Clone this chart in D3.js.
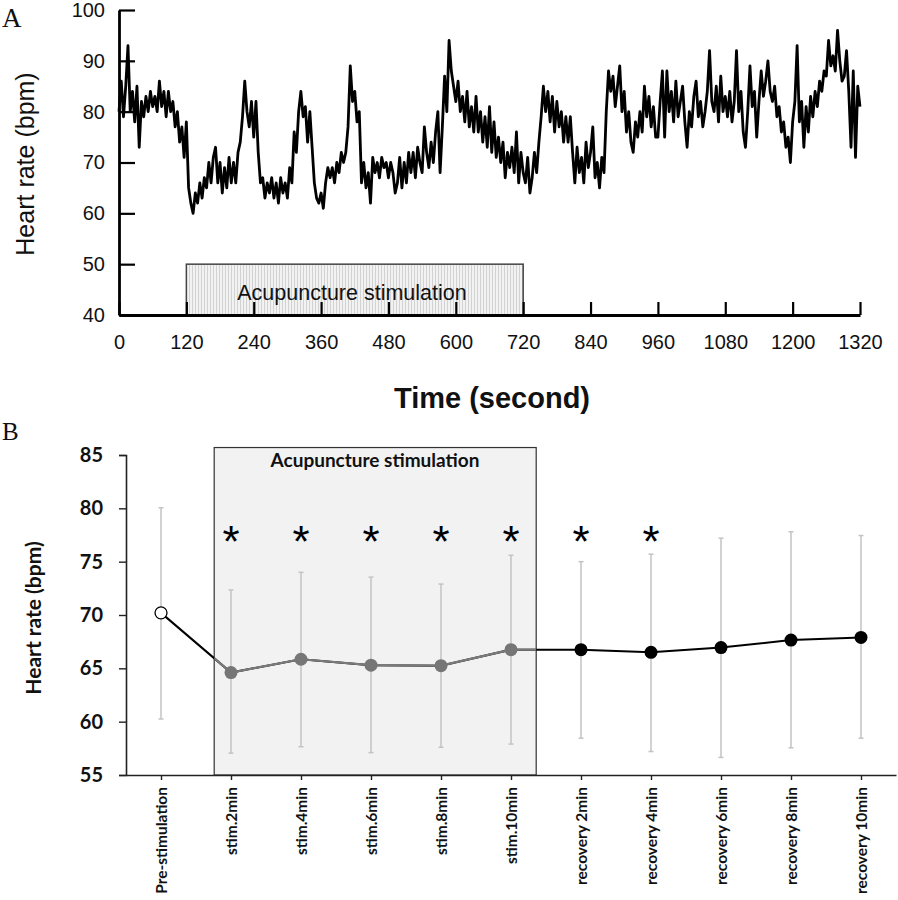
<!DOCTYPE html>
<html><head><meta charset="utf-8">
<script src="https://cdn.jsdelivr.net/npm/d3@7"></script>
<style>body{margin:0;background:#fff} svg{display:block}</style>
</head><body>
<svg id="chart" width="898" height="900"></svg>
<script>
// ---------- Panel A data: heart rate trace, one value every 4 s (0..1320 s) ----------
const hrValues = [
  80, 86, 79, 85, 93, 80, 84, 78, 85, 73,
  82, 79, 83, 80, 84, 81, 83, 80, 86, 81,
  84, 79, 84, 80, 82, 77, 80, 74, 77, 71,
  78, 65, 62, 60, 64, 62, 66, 63, 67, 65,
  70, 66, 71, 73, 66, 70, 64, 69, 65, 71,
  66, 70, 66, 72, 74, 79, 86, 80, 77, 82,
  75, 82, 72, 66, 67, 63, 66, 64, 67, 63,
  66, 62, 67, 64, 66, 63, 69, 66, 76, 72,
  80, 84, 79, 81, 74, 80, 73, 66, 63, 62,
  64, 61, 66, 69, 67, 69, 66, 70, 68, 72,
  70, 72, 77, 89, 82, 84, 78, 80, 66, 70,
  65, 68, 62, 71, 68, 70, 67, 71, 69, 70,
  67, 70, 68, 64, 66, 71, 65, 70, 66, 72,
  68, 72, 67, 73, 70, 68, 77, 72, 69, 74,
  70, 76, 80, 68, 77, 87, 80, 94, 88, 85,
  82, 86, 80, 83, 78, 84, 77, 81, 76, 83,
  76, 80, 74, 79, 73, 81, 72, 78, 71, 75,
  70, 74, 67, 72, 69, 73, 68, 76, 66, 72,
  68, 66, 71, 64, 67, 72, 68, 74, 79, 85,
  80, 84, 78, 83, 76, 82, 77, 80, 74, 79,
  74, 79, 72, 66, 73, 68, 71, 66, 74, 69,
  72, 77, 67, 70, 65, 71, 68, 80, 88, 84,
  87, 81, 85, 89, 80, 84, 76, 80, 74, 72,
  78, 75, 80, 76, 85, 79, 83, 77, 81, 75,
  75, 82, 88, 75, 88, 80, 84, 78, 86, 79,
  82, 85, 78, 73, 80, 77, 83, 86, 79, 82,
  77, 80, 84, 92, 82, 80, 85, 78, 87, 80,
  83, 79, 84, 78, 82, 92, 80, 84, 76, 73,
  80, 89, 81, 84, 75, 82, 88, 83, 86, 90,
  84, 82, 85, 79, 81, 76, 78, 73, 75, 70,
  78, 82, 93, 78, 82, 73, 81, 76, 83, 79,
  84, 81, 86, 84, 88, 87, 94, 89, 91, 88,
  96, 90, 86, 87, 92, 84, 73, 88, 71, 85,
  81
];
const hrStepSec = 4;
const timeTicks = [0, 120, 240, 360, 480, 600, 720, 840, 960, 1080, 1200, 1320];
const hrTicks = [40, 50, 60, 70, 80, 90, 100];
const stimWindowSec = [120, 720];

// ---------- Panel B data ----------
const categories = ["Pre-stimulation", "stim.2min", "stim.4min", "stim.6min", "stim.8min", "stim.10min",
  "recovery 2min", "recovery 4min", "recovery 6min", "recovery 8min", "recovery 10min"];
const meanHR  = [70.2, 64.6, 65.85, 65.3, 65.25, 66.75, 66.75, 66.5, 66.95, 67.65, 67.9];
const upperHR = [80.05, 72.35, 74.0, 73.55, 72.9, 75.6, 75.0, 75.7, 77.2, 77.8, 77.45];
const lowerHR = [60.25, 57.05, 57.65, 57.1, 57.6, 57.9, 58.45, 57.2, 56.65, 57.55, 58.45];
const significant = [false, true, true, true, true, true, true, true, false, false, false];
const phase = ["pre", "stim", "stim", "stim", "stim", "stim", "rec", "rec", "rec", "rec", "rec"];
const bTicks = [55, 60, 65, 70, 75, 80, 85];

const svg = d3.select("#chart");

// ================= PANEL A =================
const fA = "'Liberation Sans', Arial, sans-serif";
const xA = d3.scaleLinear().domain([0, 1320]).range([119, 860]);
const yA = d3.scaleLinear().domain([40, 100]).range([315, 10]);
const gA = svg.append("g");

const defs = svg.append("defs");
const pat = defs.append("pattern").attr("id", "vhatch").attr("patternUnits", "userSpaceOnUse")
  .attr("width", 3).attr("height", 10);
pat.append("rect").attr("width", 3).attr("height", 10).attr("fill", "#f2f2f2");
pat.append("rect").attr("x", 0).attr("width", 1).attr("height", 10).attr("fill", "#d2d2d2");

gA.append("rect")
  .attr("x", xA(stimWindowSec[0])).attr("y", yA(50))
  .attr("width", xA(stimWindowSec[1]) - xA(stimWindowSec[0]))
  .attr("height", yA(40) - yA(50))
  .attr("fill", "url(#vhatch)").attr("stroke", "#444").attr("stroke-width", 1.5);
gA.append("text").attr("x", 352).attr("y", 300).attr("text-anchor", "middle")
  .attr("font-family", fA).attr("font-size", 21.5).attr("fill", "#111").text("Acupuncture stimulation");

const line = d3.line().x((d, i) => xA(i * hrStepSec)).y(d => yA(d));
gA.append("path").datum(hrValues).attr("d", line)
  .attr("fill", "none").attr("stroke", "#000").attr("stroke-width", 2.8)
  .attr("stroke-linejoin", "round");

const axYA = gA.append("g").attr("transform", `translate(${xA(0)},0)`)
  .call(d3.axisLeft(yA).tickValues(hrTicks).tickSizeInner(-16).tickSizeOuter(0).tickPadding(14).tickFormat(d3.format("d")));
const axXA = gA.append("g").attr("transform", `translate(0,${yA(40)})`)
  .call(d3.axisBottom(xA).tickValues(timeTicks).tickSizeInner(-13).tickSizeOuter(0).tickPadding(20).tickFormat(d3.format("d")));
[axYA, axXA].forEach(ax => {
  ax.select(".domain").attr("stroke", "#000").attr("stroke-width", 2.8);
  ax.selectAll(".tick line").attr("stroke", "#000").attr("stroke-width", 2.2);
  ax.selectAll(".tick text").attr("font-family", fA).attr("font-size", 20).attr("fill", "#111");
});

gA.append("text").attr("transform", "translate(34,164) rotate(-90)").attr("text-anchor", "middle")
  .attr("font-family", fA).attr("font-size", 25).attr("fill", "#111").text("Heart rate (bpm)");
gA.append("text").attr("x", 492).attr("y", 408).attr("text-anchor", "middle")
  .attr("font-family", fA).attr("font-weight", "bold").attr("font-size", 29).attr("fill", "#111")
  .text("Time (second)");
svg.append("text").attr("x", 2).attr("y", 27).attr("font-family", "'Liberation Serif', 'Times New Roman', serif")
  .attr("font-size", 27).attr("fill", "#111").text("A");

// ================= PANEL B =================
const fB = "Lato, 'Open Sans', sans-serif";
const xB = d3.scalePoint().domain(categories).range([126, 896]).padding(0.5);
const yB = d3.scaleLinear().domain([55, 85]).range([775, 455]);
const step = xB.step();
const gB = svg.append("g");

const boxX0 = xB("stim.2min") - 0.24 * step;
const boxX1 = xB("stim.10min") + 0.36 * step;
const boxY0 = yB(85.7);
gB.append("rect").attr("x", boxX0).attr("y", boxY0).attr("width", boxX1 - boxX0).attr("height", yB(55) - boxY0)
  .attr("fill", "#f2f2f2").attr("stroke", "#333").attr("stroke-width", 1.2);
defs.append("clipPath").attr("id", "boxclip").append("rect")
  .attr("x", boxX0).attr("y", boxY0).attr("width", boxX1 - boxX0).attr("height", yB(55) - boxY0);

const eb = gB.append("g").attr("stroke", "#c3c3c3").attr("stroke-width", 1.5);
categories.forEach((c, i) => {
  const x = xB(c);
  eb.append("line").attr("x1", x).attr("x2", x).attr("y1", yB(upperHR[i])).attr("y2", yB(lowerHR[i]));
  eb.append("line").attr("x1", x - 2.5).attr("x2", x + 2.5).attr("y1", yB(upperHR[i])).attr("y2", yB(upperHR[i]));
  eb.append("line").attr("x1", x - 2.5).attr("x2", x + 2.5).attr("y1", yB(lowerHR[i])).attr("y2", yB(lowerHR[i]));
});

const lineB = d3.line().x((d, i) => xB(categories[i])).y(d => yB(d));
gB.append("path").datum(meanHR).attr("d", lineB).attr("fill", "none").attr("stroke", "#000").attr("stroke-width", 2);
gB.append("path").datum(meanHR).attr("d", lineB).attr("fill", "none").attr("stroke", "#7a7a7a").attr("stroke-width", 2.2)
  .attr("clip-path", "url(#boxclip)");

categories.forEach((c, i) => {
  const p = phase[i];
  gB.append("circle").attr("cx", xB(c)).attr("cy", yB(meanHR[i])).attr("r", p === "pre" ? 6 : 6.5)
    .attr("fill", p === "pre" ? "#fff" : (p === "stim" ? "#767676" : "#000"))
    .attr("stroke", p === "pre" ? "#000" : "none").attr("stroke-width", 1.3);
});

categories.forEach((c, i) => {
  if (!significant[i]) return;
  gB.append("text").attr("x", xB(c)).attr("y", 557).attr("text-anchor", "middle")
    .attr("font-family", "'Liberation Sans', Arial, sans-serif").attr("font-size", 44).attr("fill", "#000").text("*");
});

gB.append("text").attr("x", 375).attr("y", 467).attr("text-anchor", "middle")
  .attr("font-family", fB).attr("font-weight", "bold").attr("font-size", 19).attr("fill", "#111")
  .text("Acupuncture stimulation");

const axYB = gB.append("g").attr("transform", "translate(126,0)")
  .call(d3.axisLeft(yB).tickValues(bTicks).tickSize(7).tickPadding(16));
const axXB = gB.append("g").attr("transform", "translate(0,775)")
  .call(d3.axisBottom(xB).tickSize(5).tickSizeOuter(0).tickPadding(12));
[axYB, axXB].forEach(ax => {
  ax.select(".domain").attr("stroke", "#222").attr("stroke-width", 1.6);
  ax.selectAll(".tick line").attr("stroke", "#222").attr("stroke-width", 1.4);
});
axYB.selectAll(".tick text").attr("font-family", fB).attr("font-weight", "bold").attr("font-size", 20).attr("fill", "#111");
axXB.selectAll(".tick text")
  .attr("font-family", fB).attr("font-weight", "bold").attr("font-size", 15.5).attr("fill", "#111")
  .attr("text-anchor", "end").attr("transform", "rotate(-90)")
  .attr("x", -12).attr("y", 0).attr("dy", "0.35em");

gB.append("text").attr("transform", "translate(41,618) rotate(-90)").attr("text-anchor", "middle")
  .attr("font-family", fB).attr("font-weight", "bold").attr("font-size", 21).attr("fill", "#111")
  .text("Heart rate (bpm)");
svg.append("text").attr("x", 2).attr("y", 440).attr("font-family", "'Liberation Serif', 'Times New Roman', serif")
  .attr("font-size", 25).attr("fill", "#111").text("B");
</script>
</body></html>
